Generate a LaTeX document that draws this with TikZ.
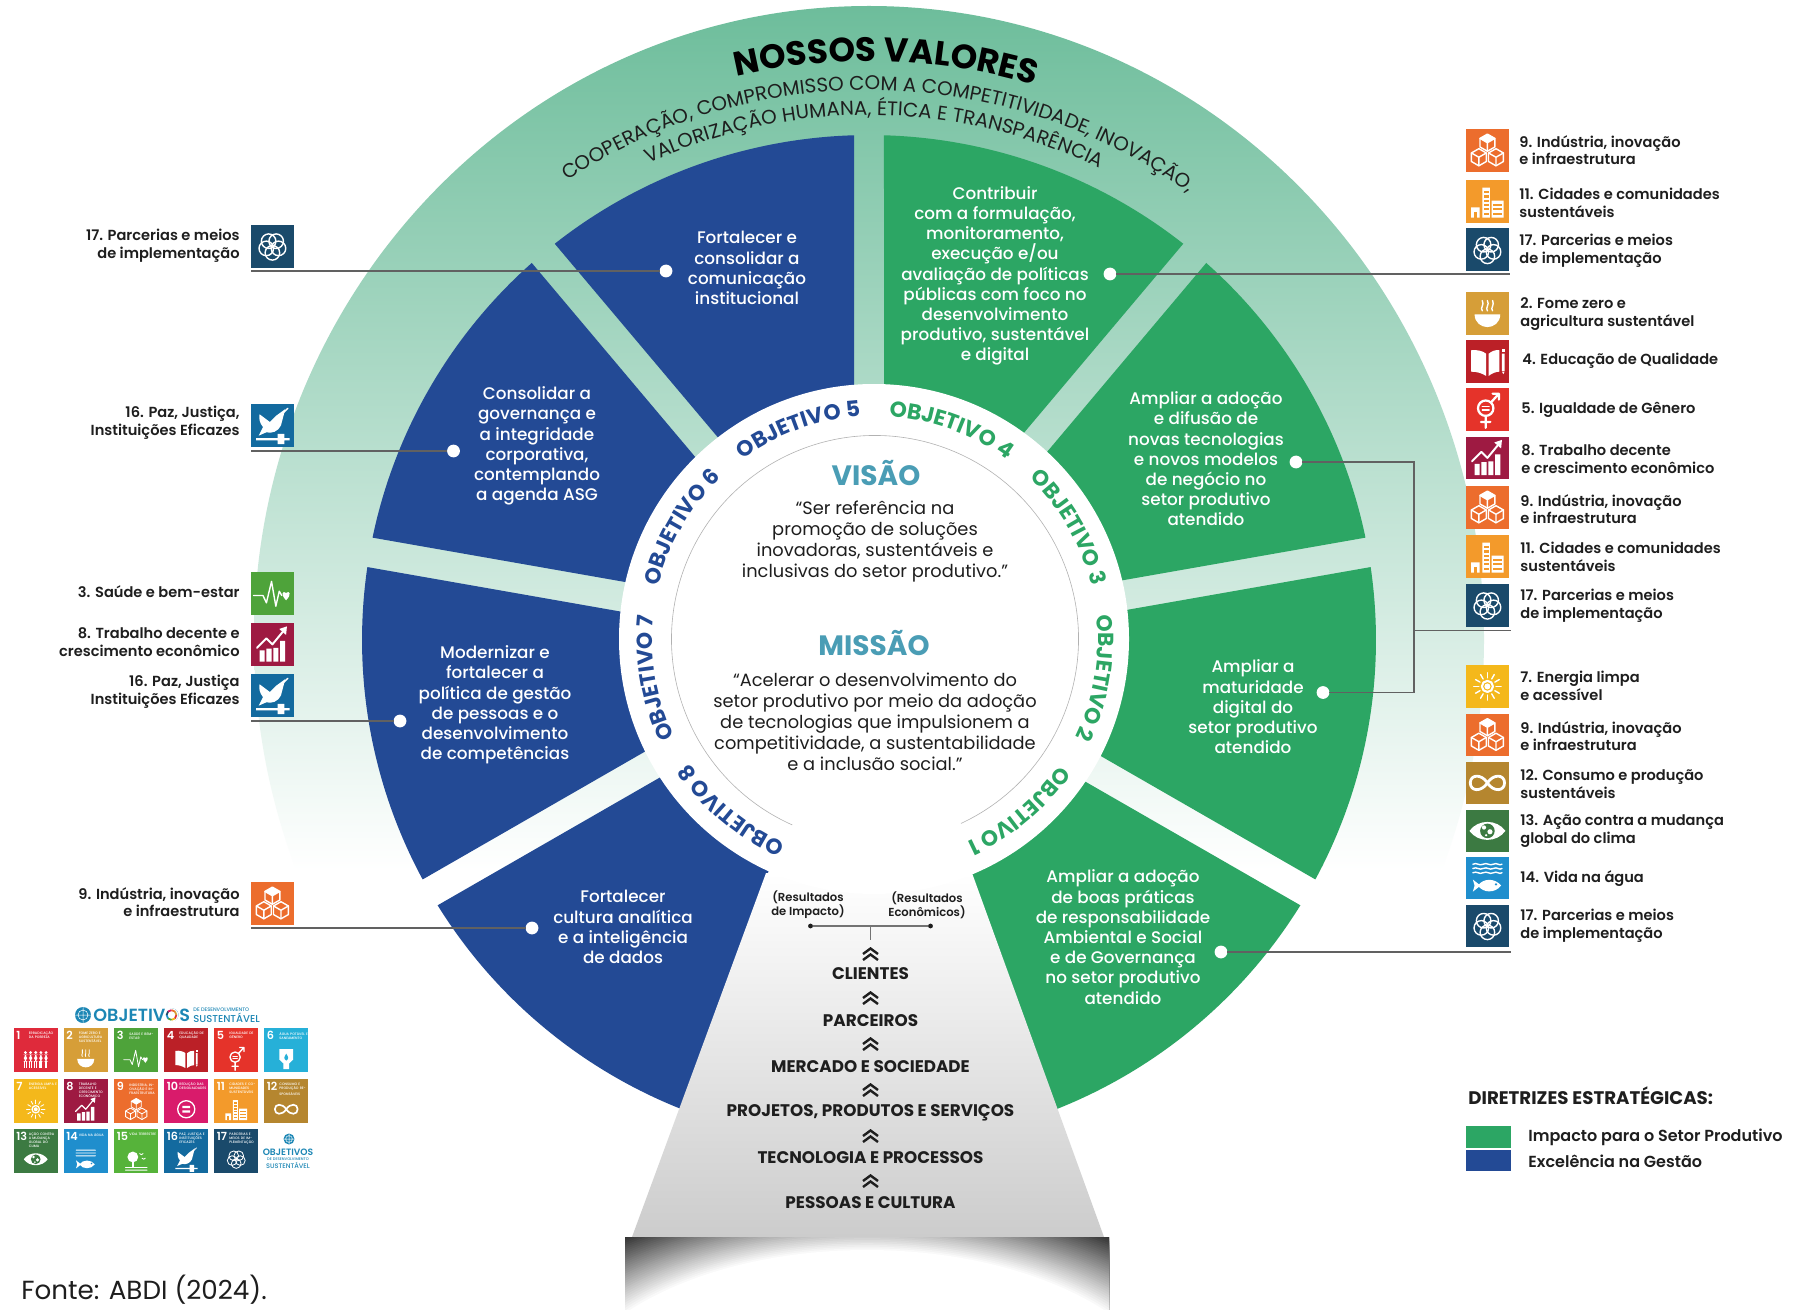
\documentclass[tikz,border=0pt]{standalone}
\usepackage{fontspec}
\usetikzlibrary{decorations.text}
\setmainfont{Poppins}
\newfontfamily\popmed{Poppins Medium}
\newfontfamily\popsemi{Poppins SemiBold}
\newfontfamily\popbold{Poppins}[UprightFont=* Bold]
\definecolor{blueC}{HTML}{234A95}
\definecolor{greenC}{HTML}{2CA664}
\definecolor{tealC}{HTML}{4A9DB5}
\definecolor{sdgblue}{HTML}{1D87B5}
\definecolor{inkC}{HTML}{1E1E1E}
\definecolor{sdg1}{HTML}{DF2A3B}
\definecolor{sdg2}{HTML}{D69E38}
\definecolor{sdg3}{HTML}{4EA33A}
\definecolor{sdg4}{HTML}{BB2027}
\definecolor{sdg5}{HTML}{E5332A}
\definecolor{sdg6}{HTML}{26B0D8}
\definecolor{sdg7}{HTML}{F4B81B}
\definecolor{sdg8}{HTML}{9E1A42}
\definecolor{sdg9}{HTML}{EC6D2D}
\definecolor{sdg10}{HTML}{D91B6B}
\definecolor{sdg11}{HTML}{F39A2B}
\definecolor{sdg12}{HTML}{B5862F}
\definecolor{sdg13}{HTML}{3C7A42}
\definecolor{sdg14}{HTML}{1F8ECD}
\definecolor{sdg15}{HTML}{56B33A}
\definecolor{sdg16}{HTML}{136A9F}
\definecolor{sdg17}{HTML}{1A4A6B}
\def\glw{.7pt}
\tikzset{
 gl/.style={draw=white,line width=\glw,line cap=round,line join=round,fill=none},
 gf/.style={fill=white,draw=none},
 secttxt/.style={text=white,align=center,inner sep=0pt,font=\popmed\fontsize{8.4}{10.1}\selectfont},
 lblL/.style={text=inkC,align=right,anchor=east,inner sep=0pt,font=\popsemi\fontsize{7.3}{8.8}\selectfont},
 lblR/.style={text=inkC,align=left,anchor=west,inner sep=0pt,font=\popsemi\fontsize{7.3}{8.8}\selectfont},
 bodytxt/.style={text=inkC,align=center,inner sep=0pt,font=\fontsize{8.9}{10.5}\selectfont},
 headtxt/.style={text=tealC,inner sep=0pt,font=\popbold\fontsize{14}{16}\selectfont},
 stacktxt/.style={text=inkC,inner sep=0pt,font=\popbold\fontsize{8.4}{10}\selectfont},
 restxt/.style={text=inkC,align=center,inner sep=0pt,font=\popsemi\fontsize{5.8}{7}\selectfont},
 dotn/.style={circle,fill=white,minimum size=6.4pt,inner sep=0pt,outer sep=0pt},
 smalldot/.style={circle,fill=inkC,minimum size=2.4pt,inner sep=0pt,outer sep=0pt},
 leader/.style={draw=black!62,line width=.6pt},
 tile/.style={minimum size=#1,inner sep=0pt,outer sep=0pt,anchor=north west},
}
% glyphs in a 100x100 box, y down
\newcommand\gcube[3]{%
 \draw[gl] (#1,#2-#3)--(#1+.87*#3,#2-.5*#3)--(#1+.87*#3,#2+.5*#3)--(#1,#2+#3)--(#1-.87*#3,#2+.5*#3)--(#1-.87*#3,#2-.5*#3)--cycle;
 \draw[gl] (#1-.87*#3,#2-.5*#3)--(#1,#2)--(#1+.87*#3,#2-.5*#3) (#1,#2)--(#1,#2+#3);}
\expandafter\def\csname sdgg1\endcsname{%
 \foreach \x in {14,32,50,68,86}{\fill[white](\x,30) circle (5.5);\fill[white,rounded corners=2](\x-6,37) rectangle (\x+6,62);\fill[white](\x-5,60) rectangle (\x-1,84);\fill[white](\x+1,60) rectangle (\x+5,84);}}
\expandafter\def\csname sdgg2\endcsname{%
 \fill[gf] (20,52)--(80,52) .. controls (80,72) and (64,82) .. (50,82) .. controls (36,82) and (20,72) .. (20,52)--cycle;
 \foreach \x in {38,50,62}{\draw[gl] (\x,44) .. controls (\x-6,37) and (\x+6,30) .. (\x,20);}}
\expandafter\def\csname sdgg3\endcsname{%
 \draw[gl] (6,55)--(28,55)--(36,72)--(48,22)--(58,80)--(66,45)--(72,55);
 \fill[gf] (82,66) .. controls (68,52) and (74,42) .. (82,49) .. controls (90,42) and (96,52) .. (82,66)--cycle;}
\expandafter\def\csname sdgg4\endcsname{%
 \fill[gf] (12,24) .. controls (26,22) and (40,26) .. (47,32)--(47,84) .. controls (38,78) and (26,74) .. (12,74)--cycle;
 \fill[gf] (53,32) .. controls (60,26) and (70,22) .. (78,24)--(78,74) .. controls (70,74) and (60,78) .. (53,84)--cycle;
 \fill[gf] (84,32) rectangle (90,72) (84,74)--(90,74)--(87,80)--cycle;\fill[gf](84,22) rectangle (90,29);}
\expandafter\def\csname sdgg5\endcsname{%
 \draw[gl,line width=1.6*\glw] (46,46) circle (18);
 \draw[gl] (38,42)--(54,42) (38,50)--(54,50);
 \draw[gl,line width=1.6*\glw] (58,33)--(76,13) (62,12)--(77,12)--(77,26) (46,64)--(46,92) (35,78)--(57,78);}
\expandafter\def\csname sdgg6\endcsname{%
 \fill[gf] (26,18)--(74,18)--(74,55)--(60,68)--(60,88)--(40,88)--(40,68)--(26,55)--cycle;
 \fill[\tcol] (50,34) .. controls (58,46) and (60,52) .. (50,58) .. controls (40,52) and (42,46) .. (50,34)--cycle;}
\expandafter\def\csname sdgg7\endcsname{%
 \draw[gl,line width=1.5*\glw] (50,50) circle (13);\fill[gf] (50,50) circle (7);
 \foreach \a in {0,30,...,330}{\draw[gl] (50,50) ++(\a:20) -- ++(\a:12);}}
\expandafter\def\csname sdgg8\endcsname{%
 \fill[gf] (20,64) rectangle (32,90) (36,60) rectangle (48,90) (52,58) rectangle (64,90) (68,42) rectangle (80,90);
 \draw[gl,line width=1.4*\glw] (14,58)--(36,36)--(50,50)--(78,16);\fill[gf] (66,14)--(84,8)--(82,28)--cycle;}
\expandafter\def\csname sdgg9\endcsname{%
 \fill[gf] (50,12)--(68,22)--(50,32)--(32,22)--cycle;
 \gcube{50}{32}{20}\gcube{30}{66}{20}\gcube{70}{66}{20}}
\expandafter\def\csname sdgg10\endcsname{%
 \draw[gl,line width=1.6*\glw] (50,50) circle (30);
 \fill[gf] (36,38) rectangle (64,46) (36,54) rectangle (64,62);}
\expandafter\def\csname sdgg11\endcsname{%
 \fill[gf] (38,18) rectangle (56,88) (60,48) rectangle (88,88) (12,64) rectangle (32,88);
 \foreach \y in {26,36,...,76}{\fill[\tcol] (41,\y) rectangle (53,\y+5);}
 \foreach \y in {56,66,76}{\fill[\tcol] (64,\y) rectangle (84,\y+5);}
 \fill[\tcol] (19,74) rectangle (25,88);}
\expandafter\def\csname sdgg12\endcsname{%
 \draw[gl,line width=2*\glw] (50,50) .. controls (36,28) and (10,30) .. (10,50) .. controls (10,70) and (36,72) .. (50,50) .. controls (64,28) and (90,30) .. (90,50) .. controls (90,70) and (64,72) .. (50,50);}
\expandafter\def\csname sdgg13\endcsname{%
 \fill[gf] (8,50) .. controls (28,22) and (72,22) .. (92,50) .. controls (72,78) and (28,78) .. (8,50)--cycle;
 \fill[\tcol] (50,50) circle (17);\fill[gf] (42,42) circle (5) (56,52) circle (6) (47,60) circle (3);}
\expandafter\def\csname sdgg14\endcsname{%
 \foreach \y in {18,28,38}{\draw[gl] (16,\y) .. controls (26,\y-5) and (30,\y+5) .. (40,\y) .. controls (50,\y-5) and (54,\y+5) .. (64,\y) .. controls (72,\y-5) and (78,\y+5) .. (84,\y);}
 \fill[gf] (28,68) .. controls (40,50) and (68,50) .. (82,68) .. controls (68,86) and (40,86) .. (28,68)--cycle;
 \fill[gf] (34,68)--(16,54)--(20,68)--(16,82)--cycle;\fill[\tcol] (70,65) circle (3);}
\expandafter\def\csname sdgg15\endcsname{%
 \fill[gf] (38,42) circle (19);\fill[gf] (35,55) rectangle (41,78);
 \draw[gl] (12,79)--(88,79) (12,88)--(88,88) (62,30)--(68,34)--(74,30) (70,46)--(76,50)--(82,46);}
\expandafter\def\csname sdgg16\endcsname{%
 \fill[gf] (20,24)--(44,42)--(58,28)--(80,12)--(70,50) .. controls (64,64) and (48,70) .. (36,66)--(18,74)--(28,54) .. controls (20,44) and (18,34) .. (20,24)--cycle;
 \draw[gl] (74,22)--(86,10);
 \fill[gf] (12,80) rectangle (90,85) (62,70) rectangle (78,94);}
\expandafter\def\csname sdgg17\endcsname{%
 \foreach \a in {90,162,234,306,18}{\draw[gl] (50,50) ++(\a:15) circle (17);}}
% icon tiles, with the glyph alone
\newcommand\sdgbig[4]{%
 \node[tile=21.4pt,fill=sdg#1,name=#2] at (#3,#4) {};
 \begin{scope}[shift={(#3,#4)},scale=.428]\def\tcol{sdg#1}\csname sdgg#1\endcsname\end{scope}}
% grid tiles, with number and title
\newcommand\sdgsmall[5]{%
 \node[tile=22.2pt,fill=sdg#1,name=#2] at (#3,#4) {};
 \node[anchor=north west,inner sep=0pt,text=white,font=\popsemi\fontsize{5.6}{5.6}\selectfont] at (#3+2.5,#4+3) {#1};
 \node[anchor=north west,inner sep=0pt,text=white,align=left,text width=14.5pt,font=\popmed\fontsize{1.7}{2}\selectfont] at (#3+15,#4+3.5) {#5};
 \begin{scope}[shift={(#3+8,#4+16)},scale=.285]\def\tcol{sdg#1}\def\glw{.42pt}\csname sdgg#1\endcsname\end{scope}}
\newcommand\unlogo[3]{%
 \fill[sdgblue] (#1,#2) circle (#3);
 \draw[white,line width=.25pt] (#1,#2) circle (.62*#3) (#1-#3,#2)--(#1+#3,#2) (#1,#2-#3)--(#1,#2+#3);}
\newcommand\sdgring[3]{%
 \fill[white] (#1,#2) circle (#3);
 \foreach \a/\c in {0/sdg1,45/sdg7,90/sdg3,135/sdg14,180/sdg17,225/sdg10,270/sdg9,315/sdg2}{%
  \draw[\c,line width=.9pt] (#1,#2) ++(\a:.72*#3) arc[start angle=\a,end angle=\a+46,radius=.72*#3];}}
\newcommand\wsector[3]{%
 \pgfmathsetmacro\dO{asin(15/507)}\pgfmathsetmacro\dI{asin(15/240)}%
 \fill[#3] ({#1+\dI}:240) -- ({#1+\dO}:507) arc[start angle={#1+\dO},end angle={#2-\dO},radius=507] -- ({#2-\dI}:240) arc[start angle={#2-\dI},end angle={#1+\dI},radius=240] -- cycle;}
\newcommand\objlabel[3]{%
 \path[decorate,decoration={text along path,text align=center,text={|\popbold\fontsize{10.9}{12}\selectfont\color{#3}|#2}}] ({#1+30}:223) arc[start angle={#1+30},end angle={#1-30},radius=223];}
\newcommand\chev[1]{%
 \draw[inkC,line width=1.2pt,line join=miter] (863,#1-1)--(870.5,#1-6.5)--(878,#1-1) (863,#1+5)--(870.5,#1-.5)--(878,#1+5);}
\begin{document}
\begin{tikzpicture}[x=.5pt,y=-.5pt]
\useasboundingbox (0,0) rectangle (1798,1310);
\fill[white] (0,0) rectangle (1798,1310);
% outer disc
\begin{scope}
 \clip (869,639) ellipse [x radius=615,y radius=633];
 \shade[top color={rgb,255:red,109;green,189;blue,155},middle color={rgb,255:red,206;green,232;blue,220},bottom color=white] (200,6) rectangle (1550,870);
\end{scope}
% sectors
\begin{scope}[shift={(869,640)},yscale=-.996]
 \wsector{90}{130}{blueC}
 \wsector{130}{170}{blueC}
 \wsector{170}{210}{blueC}
 \wsector{210}{250}{blueC}
 \wsector{50}{90}{greenC}
 \wsector{10}{50}{greenC}
 \wsector{-30}{10}{greenC}
 \wsector{-70}{-30}{greenC}
\end{scope}
% pyramid and base
\shade[top color=white,bottom color=black!20] (766,873)--(972,873)--(1104,1237)--(632,1237)--cycle;
\begin{scope}
 \clip (625,1237) rectangle (1109,1310);
 \fill[black!82] (625,1237) rectangle (1109,1310);
 \foreach \k in {34,33,...,0}{%
  \pgfmathsetmacro\pc{82*\k/34}%
  \pgfmathsetmacro\rx{311*(1+\k/100)}%
  \pgfmathsetmacro\ry{170*(1+\k/100)}%
  \fill[black!\pc] (867,1420) ellipse [x radius=\rx,y radius=\ry];}
\end{scope}
% white ring
\fill[white] (874,639) circle (255);
\begin{scope}[shift={(875,639)},yscale=-1]
 \draw[black!30,line width=.3pt] (-65:203.5) arc[start angle=-65,end angle=246,radius=203.5];
 \objlabel{110}{OBJETIVO 5}{blueC}
 \objlabel{150}{OBJETIVO 6}{blueC}
 \objlabel{190}{OBJETIVO 7}{blueC}
 \objlabel{230}{OBJETIVO 8}{blueC}
 \objlabel{70}{OBJETIVO 4}{greenC}
 \objlabel{30}{OBJETIVO 3}{greenC}
 \objlabel{-10}{OBJETIVO 2}{greenC}
 \objlabel{-50}{OBJETIVO 1}{greenC}
\end{scope}
\begin{scope}[shift={(869,639)},yscale=-1]
 \path[decorate,decoration={text along path,text align=center,text={|\popbold\fontsize{16.9}{18}\selectfont\color{black}|NOSSOS VALORES}}] (125.3:578) arc[start angle=125.3,end angle=51.3,radius=578];
 \path[decorate,decoration={text along path,text align=center,text={|\fontsize{9.9}{12}\selectfont\color{inkC}|COOPERAÇÃO, COMPROMISSO COM A COMPETITIVIDADE, INOVAÇÃO,}}] (129.9:549) arc[start angle=129.9,end angle=47.9,radius=549];
 \path[decorate,decoration={text along path,text align=center,text={|\fontsize{9.9}{12}\selectfont\color{inkC}|VALORIZAÇÃO HUMANA, ÉTICA E TRANSPARÊNCIA}}] (125.4:524) arc[start angle=125.4,end angle=53.4,radius=524];
\end{scope}
% centre
\node[headtxt,name=visao] at (876,473) {VISÃO};
\node[bodytxt,name=visaot] at (875,542) {“Ser referência na\\promoção de soluções\\inovadoras, sustentáveis e\\inclusivas do setor produtivo.”};
\node[headtxt,name=missao] at (874,643) {MISSÃO};
\node[bodytxt,name=missaot] at (875,722) {“Acelerar o desenvolvimento do\\setor produtivo por meio da adoção\\de tecnologias que impulsionem a\\competitividade, a sustentabilidade\\e a inclusão social.”};
% sector texts
\node[secttxt,name=t5] at (747,268) {Fortalecer e\\consolidar a\\comunicação\\institucional};
\node[secttxt,name=t6] at (537,446) {Consolidar a\\governança e\\a integridade\\corporativa,\\contemplando\\a agenda ASG};
\node[secttxt,name=t7] at (495,705) {Modernizar e\\fortalecer a\\política de gestão\\de pessoas e o\\desenvolvimento\\de competências};
\node[secttxt,name=t8] at (623,927) {Fortalecer\\cultura analítica\\e a inteligência\\de dados};
\node[secttxt,name=t4] at (995,276) {Contribuir\\com a formulação,\\monitoramento,\\execução e/ou\\avaliação de políticas\\públicas com foco no\\desenvolvimento\\produtivo, sustentável\\e digital};
\node[secttxt,name=t3] at (1206,459) {Ampliar a adoção\\e difusão de\\novas tecnologias\\e novos modelos\\de negócio no\\setor produtivo\\atendido};
\node[secttxt,name=t2] at (1253,707) {Ampliar a\\maturidade\\digital do\\setor produtivo\\atendido};
\node[secttxt,name=t1] at (1123,937) {Ampliar a adoção\\de boas práticas\\de responsabilidade\\Ambiental e Social\\e de Governança\\no setor produtivo\\atendido};
% left icons and labels
\sdgbig{17}{iL1}{251}{225}
\sdgbig{16}{iL2}{251}{404}
\sdgbig{3}{iL3}{251}{572}
\sdgbig{8}{iL4}{251}{623}
\sdgbig{16}{iL5}{251}{674}
\sdgbig{9}{iL6}{251}{882}
\node[lblL,name=lL1] at (240,246) {17. Parcerias e meios\\de implementação};
\node[lblL,name=lL2] at (240,423) {16. Paz, Justiça,\\Instituições Eficazes};
\node[lblL,name=lL3] at (240,592) {3. Saúde e bem-estar};
\node[lblL,name=lL4] at (240,642) {8. Trabalho decente e\\crescimento econômico};
\node[lblL,name=lL5] at (240,692) {16. Paz, Justiça\\Instituições Eficazes};
\node[lblL,name=lL6] at (240,902) {9. Indústria, inovação\\e infraestrutura};
% right icons and labels
\sdgbig{9}{iR1}{1466}{129}
\sdgbig{11}{iR2}{1466}{180}
\sdgbig{17}{iR3}{1466}{228.5}
\sdgbig{2}{iR4}{1466}{292}
\sdgbig{4}{iR5}{1466}{340}
\sdgbig{5}{iR6}{1466}{388.5}
\sdgbig{8}{iR7}{1466}{436.5}
\sdgbig{9}{iR8}{1466}{486}
\sdgbig{11}{iR9}{1466}{535}
\sdgbig{17}{iR10}{1466}{584}
\sdgbig{7}{iR11}{1466}{665}
\sdgbig{9}{iR12}{1466}{713.5}
\sdgbig{12}{iR13}{1466}{761.5}
\sdgbig{13}{iR14}{1466}{809.5}
\sdgbig{14}{iR15}{1466}{856.5}
\sdgbig{17}{iR16}{1466}{904.5}
\node[lblR,name=lR1] at (1519,150) {9. Indústria, inovação\\e infraestrutura};
\node[lblR,name=lR2] at (1519,203) {11. Cidades e comunidades\\sustentáveis};
\node[lblR,name=lR3] at (1519,251) {17. Parcerias e meios\\de implementação};
\node[lblR,name=lR4] at (1520,314) {2. Fome zero  e\\agricultura  sustentável};
\node[lblR,name=lR5] at (1522,361) {4. Educação  de Qualidade};
\node[lblR,name=lR6] at (1521,410) {5. Igualdade de Gênero};
\node[lblR,name=lR7] at (1521,459) {8. Trabalho decente\\e crescimento econômico};
\node[lblR,name=lR8] at (1520,509) {9. Indústria, inovação\\e infraestrutura};
\node[lblR,name=lR9] at (1520,557) {11. Cidades e comunidades\\sustentáveis};
\node[lblR,name=lR10] at (1520,606) {17. Parcerias e meios\\de implementação};
\node[lblR,name=lR11] at (1520,686) {7. Energia limpa\\e acessível};
\node[lblR,name=lR12] at (1520,736) {9. Indústria, inovação\\e infraestrutura};
\node[lblR,name=lR13] at (1520,784) {12. Consumo  e produção\\sustentáveis};
\node[lblR,name=lR14] at (1520,831) {13. Ação contra a mudança\\global  do clima};
\node[lblR,name=lR15] at (1520,879) {14. Vida na água};
\node[lblR,name=lR16] at (1520,926) {17. Parcerias e meios\\de implementação};
% leader lines
\node[dotn,name=d5] at (666,271) {};
\node[dotn,name=d6] at (453.5,451) {};
\node[dotn,name=d7] at (400,721) {};
\node[dotn,name=d8] at (532,928) {};
\node[dotn,name=d4] at (1110,274) {};
\node[dotn,name=d3] at (1296,462) {};
\node[dotn,name=d2] at (1323,692.5) {};
\node[dotn,name=d1] at (1221,952) {};
\coordinate (e5) at (251,271);
\coordinate (e6) at (251,451);
\coordinate (e7) at (251,721);
\coordinate (e8) at (251,928);
\coordinate (e4) at (1510,274);
\coordinate (e1) at (1511,952);
\coordinate (j1) at (1414,462);
\coordinate (j2) at (1414,692.5);
\coordinate (j3) at (1414,630.5);
\coordinate (e3) at (1511,630.5);
\draw[leader] (d5)--(e5);
\draw[leader] (d6)--(e6);
\draw[leader] (d7)--(e7);
\draw[leader] (d8)--(e8);
\draw[leader] (d4)--(e4);
\draw[leader] (d1)--(e1);
\draw[leader] (d3)--(j1)--(j2)--(d2);
\draw[leader] (j3)--(e3);
% pyramid content
\node[restxt,name=ri] at (808,905) {(Resultados\\de Impacto)};
\node[restxt,name=re] at (927,905) {(Resultados\\Econômicos)};
\node[smalldot,name=di] at (810.5,926) {};
\node[smalldot,name=de] at (930.5,926) {};
\coordinate (st) at (870.5,926);
\coordinate (sb) at (870.5,940);
\draw[black!55,line width=.6pt] (di)--(de);
\draw[black!55,line width=.5pt] (st)--(sb);
\chev{955}\chev{999}\chev{1045}\chev{1091}\chev{1137}\chev{1182}
\node[stacktxt,name=s1] at (870.5,974) {CLIENTES};
\node[stacktxt,name=s2] at (870.5,1021) {PARCEIROS};
\node[stacktxt,name=s3] at (870.5,1067) {MERCADO E SOCIEDADE};
\node[stacktxt,name=s4] at (870.5,1113) {PROJETOS, PRODUTOS E SERVIÇOS};
\node[stacktxt,name=s5] at (870.5,1158) {TECNOLOGIA E PROCESSOS};
\node[stacktxt,name=s6] at (870.5,1203) {PESSOAS E CULTURA};
% legend
\node[anchor=west,inner sep=0pt,text=inkC,font=\popbold\fontsize{9.1}{10}\selectfont,name=lg] at (1468,1096) {DIRETRIZES ESTRATÉGICAS:};
\node[anchor=north west,fill=greenC,minimum width=22.5pt,minimum height=11pt,inner sep=0pt,outer sep=0pt,name=sw1] at (1466,1126) {};
\node[anchor=north west,fill=blueC,minimum width=22.5pt,minimum height=10.5pt,inner sep=0pt,outer sep=0pt,name=sw2] at (1466,1150) {};
\node[anchor=west,inner sep=0pt,text=inkC,font=\popsemi\fontsize{8}{10}\selectfont,name=lg1] at (1528,1137) {Impacto para o Setor Produtivo};
\node[anchor=west,inner sep=0pt,text=inkC,font=\popsemi\fontsize{8}{10}\selectfont,name=lg2] at (1528,1161) {Excelência na Gestão};
\node[anchor=west,inner sep=0pt,text=inkC,font=\fontsize{13.1}{15}\selectfont,name=fonte] at (21,1290) {Fonte: ABDI (2024).};
% SDG grid
\unlogo{83}{1015}{8}
\node[anchor=west,inner sep=0pt,text=sdgblue,font=\popsemi\fontsize{8.8}{9}\selectfont,name=gt] at (93,1015) {OBJETIVOS};
\sdgring{171.5}{1015}{6.8}
\node[anchor=west,inner sep=0pt,text=sdgblue,font=\popmed\fontsize{2.55}{3}\selectfont,name=gt2] at (193,1010) {DE DESENVOLVIMENTO};
\node[anchor=west,inner sep=0pt,text=sdgblue,font=\popmed\fontsize{5}{6}\selectfont,name=gt3] at (193,1018) {SUSTENTÁVEL};
\sdgsmall{1}{g1}{13.5}{1028}{ERRADICAÇÃO DA POBREZA}
\sdgsmall{2}{g2}{63.5}{1028}{FOME ZERO E AGRICULTURA SUSTENTÁVEL}
\sdgsmall{3}{g3}{114}{1028}{SAÚDE E BEM-ESTAR}
\sdgsmall{4}{g4}{164}{1028}{EDUCAÇÃO DE QUALIDADE}
\sdgsmall{5}{g5}{214}{1028}{IGUALDADE DE GÊNERO}
\sdgsmall{6}{g6}{264}{1028}{ÁGUA POTÁVEL E SANEAMENTO}
\sdgsmall{7}{g7}{13.5}{1079}{ENERGIA LIMPA E ACESSÍVEL}
\sdgsmall{8}{g8}{63.5}{1079}{TRABALHO DECENTE E CRESCIMENTO ECONÔMICO}
\sdgsmall{9}{g9}{114}{1079}{INDÚSTRIA, INOVAÇÃO E INFRAESTRUTURA}
\sdgsmall{10}{g10}{164}{1079}{REDUÇÃO DAS DESIGUALDADES}
\sdgsmall{11}{g11}{214}{1079}{CIDADES E COMUNIDADES SUSTENTÁVEIS}
\sdgsmall{12}{g12}{264}{1079}{CONSUMO E PRODUÇÃO RESPONSÁVEIS}
\sdgsmall{13}{g13}{13.5}{1129}{AÇÃO CONTRA A MUDANÇA GLOBAL DO CLIMA}
\sdgsmall{14}{g14}{63.5}{1129}{VIDA NA ÁGUA}
\sdgsmall{15}{g15}{114}{1129}{VIDA TERRESTRE}
\sdgsmall{16}{g16}{164}{1129}{PAZ, JUSTIÇA E INSTITUIÇÕES EFICAZES}
\sdgsmall{17}{g17}{214}{1129}{PARCERIAS E MEIOS DE IMPLEMENTAÇÃO}
\unlogo{289}{1139}{5.5}
\node[inner sep=0pt,text=sdgblue,font=\popsemi\fontsize{4.6}{5}\selectfont,name=gb1] at (288,1152) {OBJETIVOS};
\node[inner sep=0pt,text=sdgblue,font=\popmed\fontsize{1.9}{2.2}\selectfont,name=gb2] at (288,1159) {DE DESENVOLVIMENTO};
\node[inner sep=0pt,text=sdgblue,font=\popmed\fontsize{3.3}{4}\selectfont,name=gb3] at (288,1165) {SUSTENTÁVEL};
\end{tikzpicture}
\end{document}
